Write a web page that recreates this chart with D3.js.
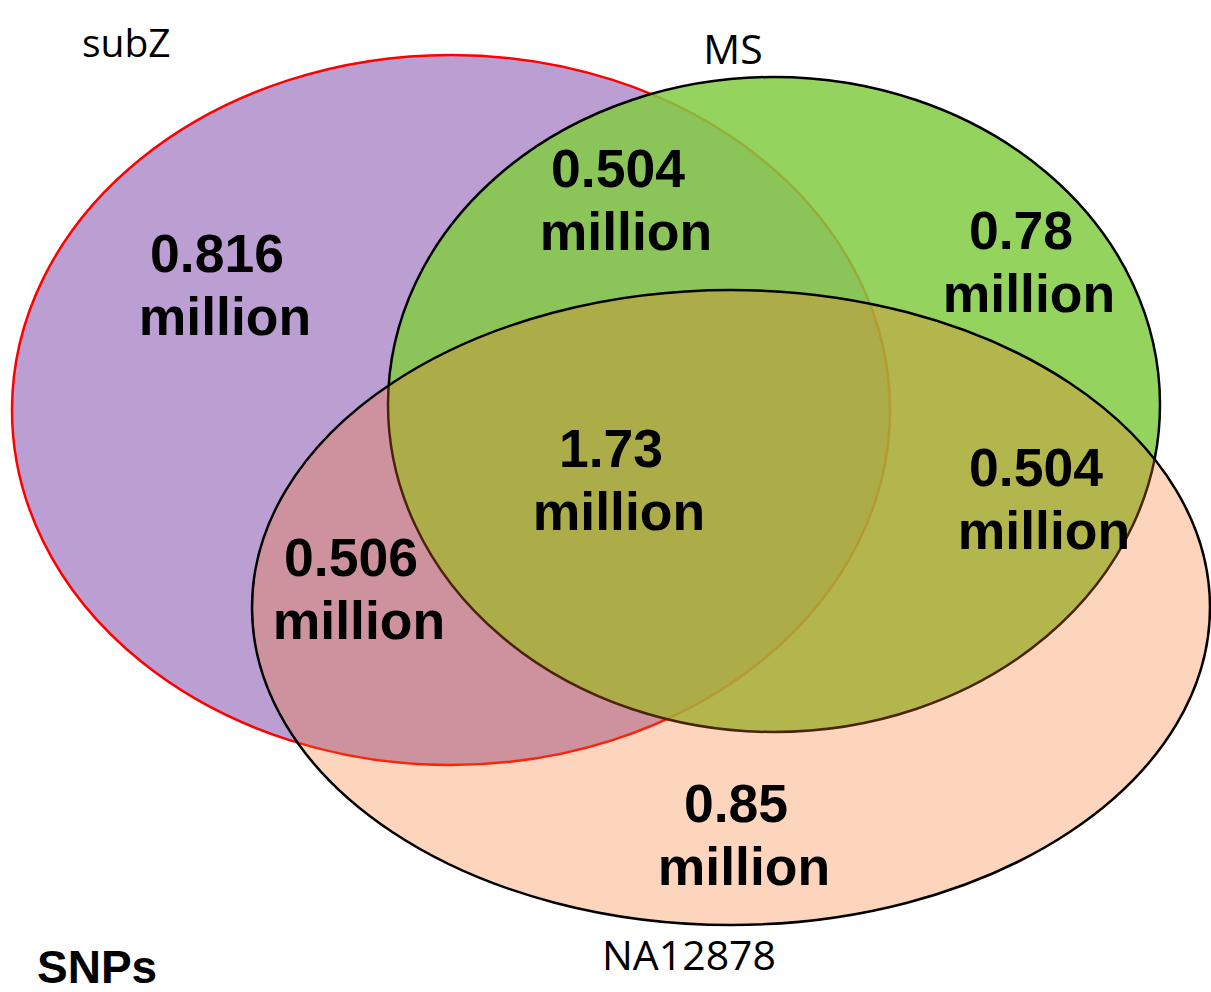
<!DOCTYPE html>
<html>
<head>
<meta charset="utf-8">
<script src="https://cdn.jsdelivr.net/npm/d3@7"></script>
<style>
  body { margin: 0; background: #fff; }
  .count { font-family: "Liberation Sans", Arial, sans-serif; font-weight: bold; font-size: 53.5px; fill: #000; }
  .setname { font-family: "Open Sans", "Noto Sans", sans-serif; fill: #000; }
  .title { font-family: "Liberation Sans", Arial, sans-serif; font-weight: bold; font-size: 46px; fill: #000; }
</style>
</head>
<body>
<script>
var width = 1211,
    height = 992;

// sets and region counts (millions of SNPs)
var sets = ["subZ", "MS", "NA12878"];
var regions = ["subZ", "subZ&MS", "MS", "subZ&NA12878", "subZ&MS&NA12878", "MS&NA12878", "NA12878"];
var counts = ["0.816", "0.504", "0.78", "0.506", "1.73", "0.504", "0.85"];
var unit = "million";

// layout in diagram units (1 unit = 10px)
var setShape = [
  { cx: 45.1, cy: 41.0, rx: 43.9, ry: 35.5 },
  { cx: 77.4, cy: 40.45, rx: 38.6, ry: 32.75 },
  { cx: 73.1, cy: 60.75, rx: 47.9, ry: 31.75 }
];
var setFill = ["#bb9fd3", "#83cb43", "#f87326"];
var setAlpha = [1, 0.85, 0.3];
var setStroke = ["#ff0000", "#000", "#000"];
var setLabelPos = [
  { x: 8.2, y: 5.7, size: 39, anchor: "start" },
  { x: 73.3, y: 6.4, size: 41, anchor: "middle" },
  { x: 68.9, y: 97.0, size: 41, anchor: "middle" }
];
var regionPos = [
  { x: 21.7, y: 27.2 },
  { x: 61.8, y: 18.7 },
  { x: 102.1, y: 24.9 },
  { x: 35.1, y: 57.6 },
  { x: 61.1, y: 46.7 },
  { x: 103.6, y: 48.6 },
  { x: 73.6, y: 82.2 }
];

var x = d3.scaleLinear().domain([0, 121.1]).range([0, width]);
var y = d3.scaleLinear().domain([0, 99.2]).range([0, height]);

var svg = d3.select("body").append("svg")
    .attr("width", width)
    .attr("height", height);

svg.selectAll(".set")
    .data(sets)
  .enter().append("ellipse")
    .attr("class", "set")
    .attr("cx", function(d, i) { return x(setShape[i].cx); })
    .attr("cy", function(d, i) { return y(setShape[i].cy); })
    .attr("rx", function(d, i) { return x(setShape[i].rx) - x(0); })
    .attr("ry", function(d, i) { return y(setShape[i].ry) - y(0); })
    .attr("fill", function(d, i) { return setFill[i]; })
    .attr("fill-opacity", function(d, i) { return setAlpha[i]; })
    .attr("stroke", function(d, i) { return setStroke[i]; })
    .attr("stroke-width", 2.5);

svg.selectAll(".setname")
    .data(sets)
  .enter().append("text")
    .attr("class", "setname")
    .attr("x", function(d, i) { return x(setLabelPos[i].x); })
    .attr("y", function(d, i) { return y(setLabelPos[i].y); })
    .attr("text-anchor", function(d, i) { return setLabelPos[i].anchor; })
    .style("font-size", function(d, i) { return setLabelPos[i].size + "px"; })
    .text(function(d) { return d; });

var label = svg.selectAll(".count")
    .data(regions)
  .enter().append("text")
    .attr("class", "count")
    .attr("text-anchor", "middle");

label.append("tspan")
    .attr("x", function(d, i) { return x(regionPos[i].x); })
    .attr("y", function(d, i) { return y(regionPos[i].y); })
    .text(function(d, i) { return counts[i]; });

label.append("tspan")
    .attr("x", function(d, i) { return x(regionPos[i].x) + 8; }) // trailing space in source
    .attr("y", function(d, i) { return y(regionPos[i].y) + 63; })
    .text(unit);

svg.append("text")
    .attr("class", "title")
    .attr("x", 37)
    .attr("y", 983)
    .text("SNPs");
</script>
</body>
</html>
